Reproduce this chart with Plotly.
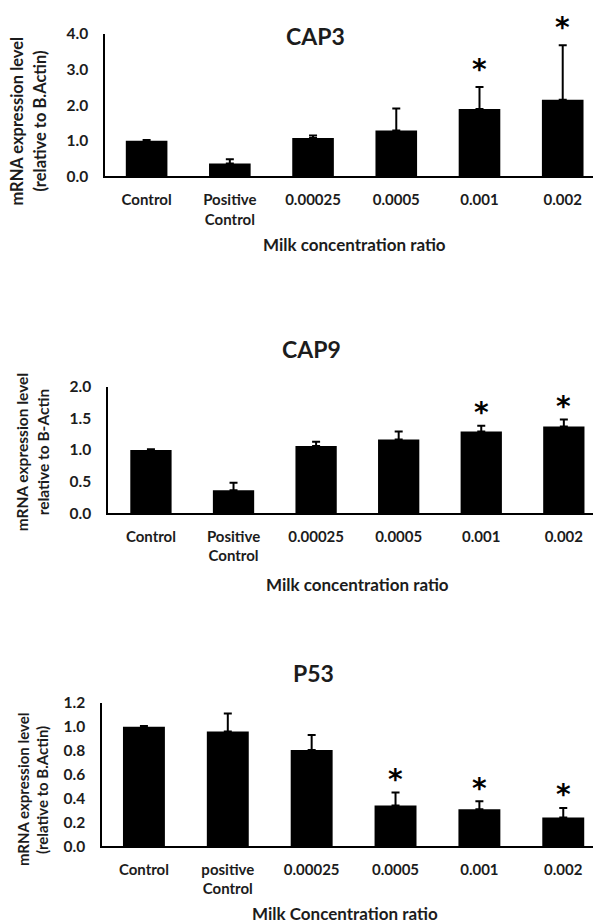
import plotly.graph_objects as go

# ---------------- data ----------------
categories = ["Control", "Positive<br>Control", "0.00025", "0.0005", "0.001", "0.002"]
categories_p53 = ["Control", "positive<br>Control", "0.00025", "0.0005", "0.001", "0.002"]

cap3_mean = [1.00, 0.36, 1.08, 1.29, 1.89, 2.15]
cap3_err = [0.02, 0.12, 0.07, 0.62, 0.62, 1.53]
cap3_sig = [False, False, False, False, True, True]

cap9_mean = [1.00, 0.36, 1.06, 1.165, 1.29, 1.37]
cap9_err = [0.01, 0.12, 0.07, 0.125, 0.09, 0.11]
cap9_sig = [False, False, False, False, True, True]

p53_mean = [1.00, 0.96, 0.805, 0.34, 0.31, 0.24]
p53_err = [0.005, 0.15, 0.125, 0.11, 0.065, 0.08]
p53_sig = [False, False, False, True, True, True]

panel_titles = ["CAP3", "CAP9", "P53"]
ytitles = [("mRNA expression level", "(relative to B.Actin)"),
           ("mRNA expression level", "relative to B-Actin"),
           ("mRNA expression level", "(relative to B.Actin)")]
xtitles = ["Milk concentration ratio", "Milk concentration ratio", "Milk Concentration ratio"]
yticks = [[0, 1, 2, 3, 4], [0, 0.5, 1.0, 1.5, 2.0], [0, 0.2, 0.4, 0.6, 0.8, 1.0, 1.2]]

# ---------------- layout helpers ----------------
OFF = 8                      # default page body margin
W, H = 601 - OFF, 923 - OFF
Y0, YS = 16.0, 0.984         # observed vertical placement calibration
def px(x):
    return (x - OFF) / W
def py(y):
    return 1 - ((y - Y0) / YS) / H

FONT = "Lato, 'Open Sans', sans-serif"
TXT = "#1c1c1c"

panels = [
    dict(cats=categories, mean=cap3_mean, err=cap3_err, sig=cap3_sig,
         xdom=(105, 601), xr=(-0.5, 5.46), ydom=(32, 175), yr=(0, 4),
         title_xy=(315, 34), ytl=(17, 40, 120), ytsize=16.5, xt_xy=(355, 243), star_shift=23),
    dict(cats=categories, mean=cap9_mean, err=cap9_err, sig=cap9_sig,
         xdom=(108, 601), xr=(-0.52, 5.45), ydom=(386, 513), yr=(0, 2),
         title_xy=(311, 348), ytl=(22, 43, 452), ytsize=15.5, xt_xy=(357, 585), star_shift=18),
    dict(cats=categories_p53, mean=p53_mean, err=p53_err, sig=p53_sig,
         xdom=(102, 601), xr=(-0.5, 5.45), ydom=(703.3, 847.3), yr=(0, 1.2),
         title_xy=(313, 673), ytl=(23, 42, 791), ytsize=15, xt_xy=(345, 915), star_shift=18),
]

fig = go.Figure()
annotations = []
layout = {}

for i, p in enumerate(panels):
    n = "" if i == 0 else str(i + 1)
    xa, ya = "x" + n, "y" + n
    fig.add_trace(go.Bar(
        x=p["cats"], y=p["mean"], width=0.5,
        marker=dict(color="black", line=dict(width=0)),
        error_y=dict(type="data", symmetric=False, array=p["err"],
                     arrayminus=[0] * len(p["err"]),
                     color="black", thickness=2, width=4),
        xaxis=xa, yaxis=ya, showlegend=False,
    ))
    layout["xaxis" + n] = dict(
        domain=[px(p["xdom"][0]), px(p["xdom"][1])], anchor=ya,
        type="category", range=list(p["xr"]),
        showline=True, linecolor="black", linewidth=1.5,
        ticks="", showgrid=False, zeroline=False,
        tickfont=dict(family=FONT, size=15, color=TXT, weight=700),
        ticklabelstandoff=9,
    )
    layout["yaxis" + n] = dict(
        domain=[py(p["ydom"][1]), py(p["ydom"][0])], anchor=xa,
        range=list(p["yr"]), tickvals=yticks[i], tickformat=".1f",
        showline=True, linecolor="black", linewidth=1.5,
        ticks="", showgrid=False, zeroline=False,
        tickfont=dict(family=FONT, size=15.5, color=TXT, weight=700),
        ticklabelstandoff=12,
    )
    # panel title
    annotations.append(dict(
        text=panel_titles[i], x=px(p["title_xy"][0]), y=py(p["title_xy"][1]),
        xref="paper", yref="paper", xanchor="center", yanchor="middle",
        showarrow=False, font=dict(family=FONT, size=23, color=TXT, weight=700)))
    # y-axis title (two rotated lines)
    l1x, l2x, yc = p["ytl"]
    for txt, xx in zip(ytitles[i], (l1x, l2x)):
        annotations.append(dict(
            text=txt, x=px(xx), y=py(yc), xref="paper", yref="paper",
            xanchor="center", yanchor="middle", textangle=-90, showarrow=False,
            font=dict(family=FONT, size=p["ytsize"], color=TXT, weight=700)))
    # x-axis title
    annotations.append(dict(
        text=xtitles[i], x=px(p["xt_xy"][0]), y=py(p["xt_xy"][1]),
        xref="paper", yref="paper", xanchor="center", yanchor="middle",
        showarrow=False, font=dict(family=FONT, size=17, color=TXT, weight=700)))
    # significance asterisks (positioned by category index)
    for j, (m, e, s) in enumerate(zip(p["mean"], p["err"], p["sig"])):
        if s:
            annotations.append(dict(
                text="*", x=j, y=m + e, xref=xa, yref=ya,
                xanchor="center", yanchor="middle", yshift=p["star_shift"] - 5,
                showarrow=False,
                font=dict(family="DejaVu Sans", size=28, color="black", weight=700)))

fig.update_layout(
    width=W, height=H, margin=dict(l=0, r=0, t=0, b=0),
    paper_bgcolor="white", plot_bgcolor="white",
    annotations=annotations, bargap=0.5, **layout,
)

fig.write_html("out.html")
